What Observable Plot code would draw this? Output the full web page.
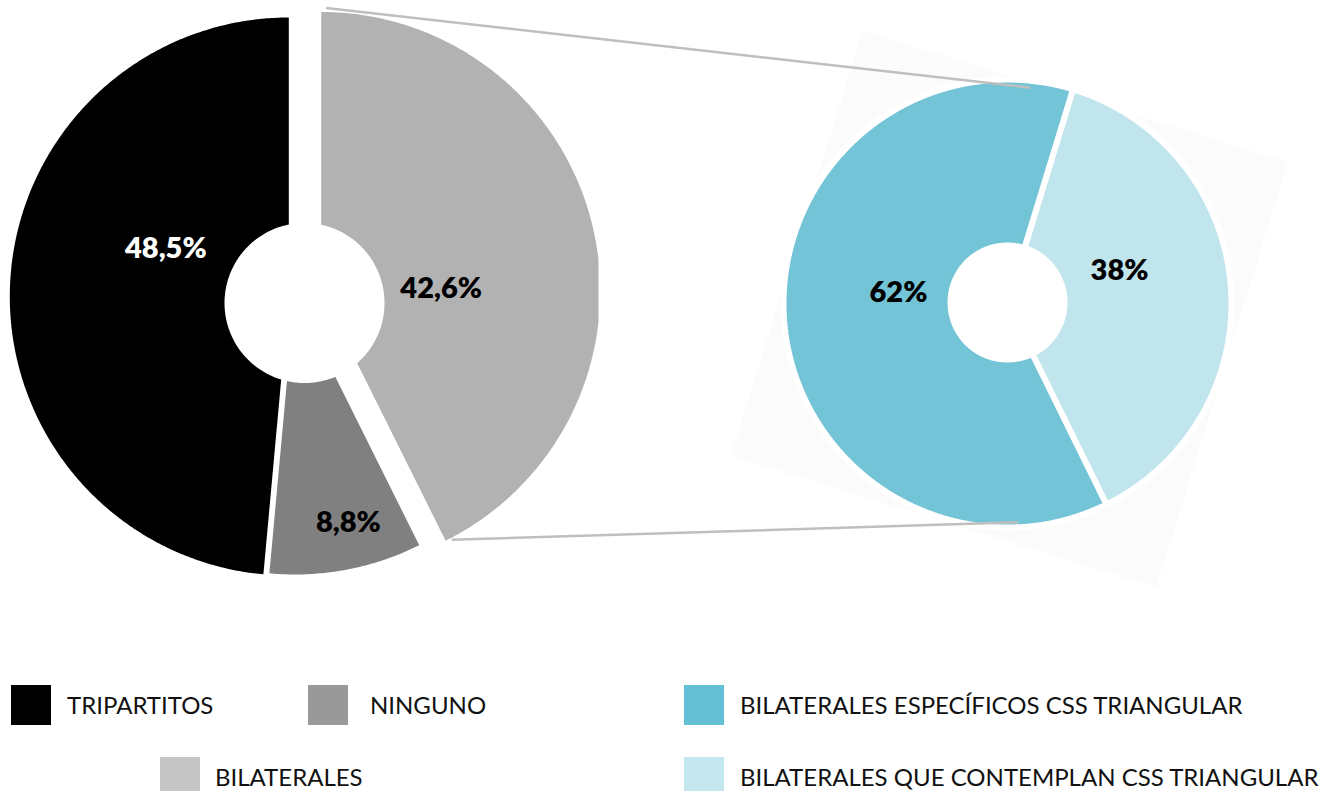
<!DOCTYPE html>
<html><head><meta charset="utf-8">
<script src="https://cdn.jsdelivr.net/npm/d3@7"></script>
<script src="https://cdn.jsdelivr.net/npm/@observablehq/plot@0.6"></script>
<style>
html,body{margin:0;padding:0;background:#fff;}
#wrap{position:relative;width:1331px;height:791px;overflow:hidden;font-family:Lato,"Noto Sans",sans-serif;}
#legend{position:relative;width:1331px;height:121px;}
.sw{position:absolute;width:40px;height:40px;}
.lt{position:absolute;font-size:24px;line-height:40px;height:40px;color:#111;white-space:nowrap;font-weight:400;}
</style></head>
<body><div id="wrap"><div id="chart"></div><div id="legend"></div></div>
<script>
// ---- data ----
const catIzq = ["BILATERALES", "NINGUNO", "TRIPARTITOS"];
const valIzq = [42.6, 8.8, 48.5];
const lblIzq = ["42,6%", "8,8%", "48,5%"];
const catDer = ["BILATERALES QUE CONTEMPLAN CSS TRIANGULAR", "BILATERALES ESPECÍFICOS CSS TRIANGULAR"];
const valDer = [38, 62];
const lblDer = ["38%", "62%"];
const leyendaTextos = ["TRIPARTITOS", "NINGUNO", "BILATERALES", "BILATERALES ESPECÍFICOS CSS TRIANGULAR", "BILATERALES QUE CONTEMPLAN CSS TRIANGULAR"];

// ---- styles / layout ----
const H = 670;
const colorDomain = [...catIzq, ...catDer];
const colorRange = ["#b2b2b2", "#808080", "#000000", "#c1e5ed", "#73c4d6"];
const leyendaColores = ["#000000", "#999999", "#c6c6c6", "#63c0d5", "#c4e6ef"];
const leyendaPos = [{sx:11, sy:685, tx:67}, {sx:308, sy:685, tx:370}, {sx:160, sy:757, tx:215}, {sx:684, sy:685, tx:740}, {sx:684, sy:757, tx:740}];

const izq = {R:279, start:0, centers:[[320.7,290.5],[294.3,295],[288.3,296]], hole:[304,302.5,80],
  label:[[88.8,120],[166.7,233],[291.3,132]], labelWhite:[false,false,true], clipX:598};
const der = {R:224, start:17, centers:[[1007,303],[1007,303]], hole:[1007,302,60],
  label:[[73.9,116.6],[275.8,109.6]], labelWhite:[false,false]};
const fondo = {cx:1009, cy:308.5, side:445, rot:17.2};

const rad = a => a * Math.PI / 180;
const polar = (cx, cy, r, a) => [cx + r * Math.sin(rad(a)), cy - r * Math.cos(rad(a))];

function slices(cats, vals, L) {
  const total = d3.sum(vals);
  let a = L.start;
  return cats.map((c, i) => {
    const a0 = a, a1 = a + vals[i] / total * 360; a = a1;
    return {cat: c, a0, a1, cx: L.centers[i][0], cy: L.centers[i][1], i};
  });
}
function sectorPts(s, R, clipX) {
  const pts = [{cat: s.cat, x: s.cx, y: s.cy}];
  const n = Math.max(2, Math.ceil((s.a1 - s.a0) / 0.5));
  for (let k = 0; k <= n; k++) {
    let [x, y] = polar(s.cx, s.cy, R, s.a0 + (s.a1 - s.a0) * k / n);
    if (clipX != null) x = Math.min(x, clipX);
    pts.push({cat: s.cat, x, y});
  }
  pts.push({cat: s.cat, x: s.cx, y: s.cy});
  return pts;
}
function circlePts(id, cx, cy, r) {
  const pts = [];
  for (let k = 0; k <= 360; k++) { const [x, y] = polar(cx, cy, r, k); pts.push({id, x, y}); }
  return pts;
}

const sIzq = slices(catIzq, valIzq, izq);
const sDer = slices(catDer, valDer, der);
const ptsIzq = sIzq.flatMap(s => sectorPts(s, izq.R, izq.clipX));
const ptsDer = sDer.flatMap(s => sectorPts(s, der.R));
const holes = [...circlePts("i", ...izq.hole), ...circlePts("d", ...der.hole)];

const half = fondo.side / 2;
const fondoPts = [[-half,-half],[half,-half],[half,half],[-half,half],[-half,-half]].map(([dx,dy]) => {
  const c = Math.cos(rad(fondo.rot)), s = Math.sin(rad(fondo.rot));
  return {x: fondo.cx + dx * c - dy * s, y: fondo.cy + dx * s + dy * c};
});

const labels = [
  ...sIzq.map((s, i) => { const [x, y] = polar(s.cx, s.cy, izq.label[i][1], izq.label[i][0]); return {x, y, text: lblIzq[i], white: izq.labelWhite[i]}; }),
  ...sDer.map((s, i) => { const [x, y] = polar(s.cx, s.cy, der.label[i][1], der.label[i][0]); return {x, y, text: lblDer[i], white: der.labelWhite[i]}; })
];

// connectors from the exploded BILATERALES slice to the second donut
const gris = sIzq[0];
const [t1x, t1y] = polar(gris.cx, gris.cy, izq.R + 4, gris.a0 + 1);
const [b1x, b1y] = polar(gris.cx, gris.cy, izq.R + 2, gris.a1 - 1.2);
const [t2x, t2y] = polar(der.centers[0][0], der.centers[0][1], 217, 6);
const [b2x, b2y] = polar(der.centers[0][0], der.centers[0][1], 219, 177.3);
const conectores = [{x1: t1x, y1: t1y, x2: t2x, y2: t2y}, {x1: b1x, y1: b1y, x2: b2x, y2: b2y}];

const chart = Plot.plot({
  width: 1331, height: H, margin: 0,
  x: {domain: [0, 1331], range: [0, 1331], axis: null},
  y: {domain: [0, H], range: [0, H], axis: null},
  color: {domain: colorDomain, range: colorRange},
  style: {fontFamily: "Lato, 'Noto Sans', sans-serif", background: "#fff"},
  marks: [
    Plot.line(fondoPts, {x: "x", y: "y", fill: "#fbfbfb", stroke: "none"}),
    Plot.line(ptsIzq, {x: "x", y: "y", z: "cat", fill: "cat", stroke: "none"}),
    Plot.line(ptsDer, {x: "x", y: "y", z: "cat", fill: "cat", stroke: "#ffffff", strokeWidth: 6, strokeLinejoin: "miter"}),
    Plot.line(holes, {x: "x", y: "y", z: "id", fill: "#ffffff", stroke: "none"}),
    Plot.link(conectores, {x1: "x1", y1: "y1", x2: "x2", y2: "y2", stroke: "#bfbfbf", strokeWidth: 2.5}),
    Plot.text(labels.filter(d => d.white), {x: "x", y: "y", text: "text", fill: "#ffffff", fontSize: 29, fontWeight: 800}),
    Plot.text(labels.filter(d => !d.white), {x: "x", y: "y", text: "text", fill: "#000000", fontSize: 29, fontWeight: 800})
  ]
});
document.getElementById("chart").appendChild(chart);

const leg = document.getElementById("legend");
leyendaTextos.forEach((t, i) => {
  const p = leyendaPos[i];
  const sw = document.createElement("div");
  sw.className = "sw"; sw.style.left = p.sx + "px"; sw.style.top = (p.sy - H) + "px"; sw.style.background = leyendaColores[i];
  leg.appendChild(sw);
  const tx = document.createElement("div");
  tx.className = "lt"; tx.style.left = p.tx + "px"; tx.style.top = (p.sy - H) + "px"; tx.textContent = t;
  leg.appendChild(tx);
});
</script></body></html>
